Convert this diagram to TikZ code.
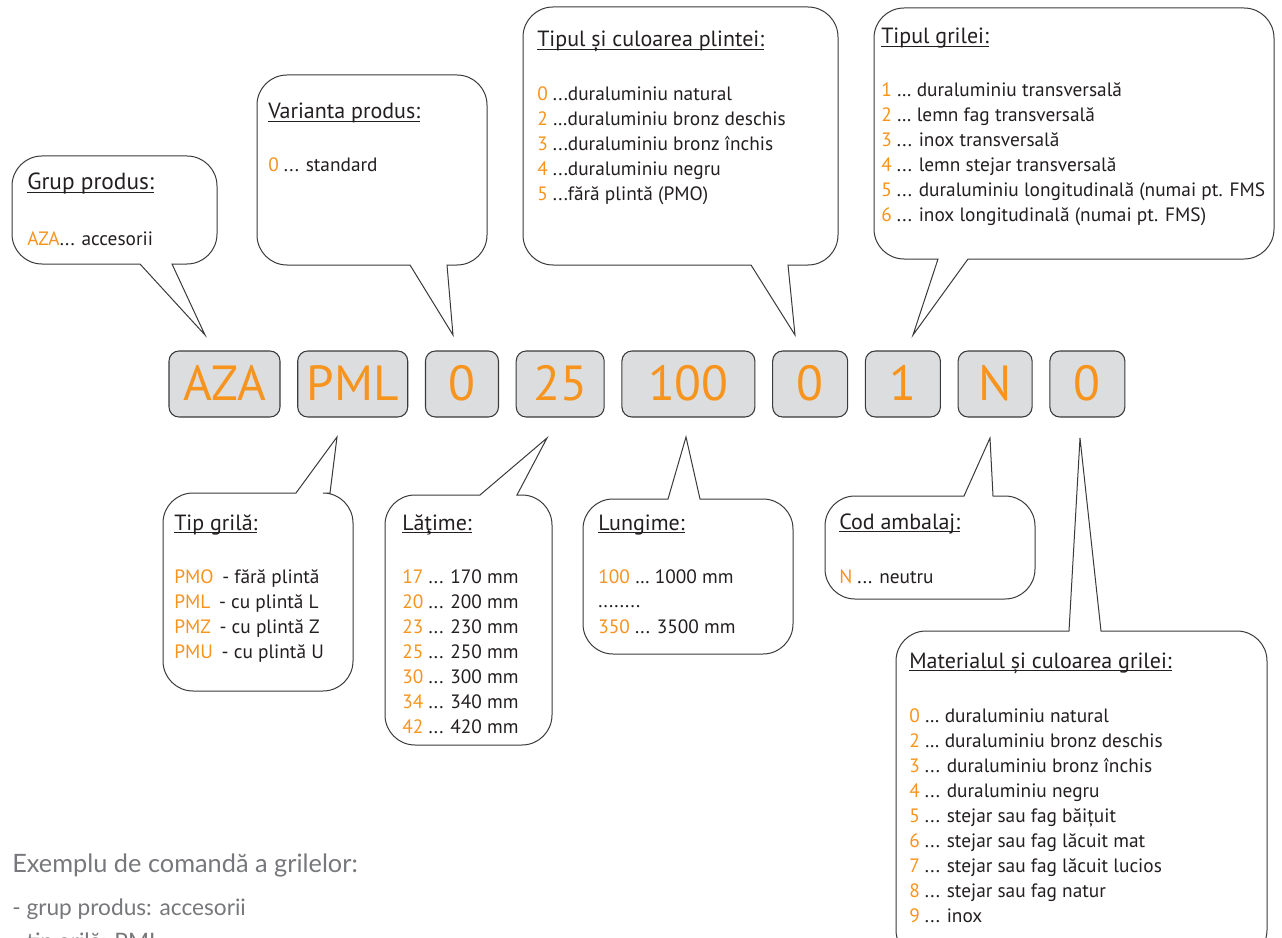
\documentclass[tikz,border=0pt]{standalone}
\usepackage{fontspec}
\setmainfont{PT Sans}
\newfontfamily\exfont{Lato}
\usetikzlibrary{positioning}

\definecolor{codeorange}{HTML}{F7941D}
\definecolor{ink}{HTML}{231F20}
\definecolor{edge}{HTML}{3A3A3A}
\definecolor{boxgray}{HTML}{DCDDDE}
\definecolor{exgray}{HTML}{77787B}

\newcommand{\org}[1]{\textcolor{codeorange}{#1}}
\newcommand{\headul}[1]{\underline{\smash{#1}}}
\newcommand{\crad}{30}

% callout, tail on the lower edge: x1, x2, top, bottom, tail left, tail right, tip x, tip y
\newcommand{\calloutdown}[8]{%
  \draw[bubble] (#7,-#8) -- (#5,-#4) -- ({#1+\crad},-#4)
    arc[start angle=270, end angle=180, radius=\crad] -- (#1,{-#3-\crad})
    arc[start angle=180, end angle=90, radius=\crad] -- ({#2-\crad},-#3)
    arc[start angle=90, end angle=0, radius=\crad] -- (#2,{-#4+\crad})
    arc[start angle=0, end angle=-90, radius=\crad] -- (#6,-#4) -- cycle;}
% callout, tail on the upper edge
\newcommand{\calloutup}[8]{%
  \draw[bubble] (#7,-#8) -- (#6,-#3) -- ({#2-\crad},-#3)
    arc[start angle=90, end angle=0, radius=\crad] -- (#2,{-#4+\crad})
    arc[start angle=0, end angle=-90, radius=\crad] -- ({#1+\crad},-#4)
    arc[start angle=270, end angle=180, radius=\crad] -- (#1,{-#3-\crad})
    arc[start angle=180, end angle=90, radius=\crad] -- (#5,-#3) -- cycle;}

\begin{document}
\begin{tikzpicture}[
  x=0.75pt, y=0.75pt,
  code/.style={draw=edge, line width=0.8pt, fill=boxgray, rounded corners=7.5pt,
               minimum height=49.5pt, inner sep=0pt, text=codeorange,
               text height=25pt, text depth=0pt,
               font=\fontsize{37}{37}\selectfont},
  bubble/.style={draw=edge, line width=0.75pt, fill=white, line join=miter},
  head/.style={anchor=base west, inner sep=0pt, text=ink, font=\fontsize{16.5}{20}\selectfont},
  item/.style={anchor=base west, inner sep=0pt, text=ink, font=\fontsize{14.5}{18}\selectfont},
  note/.style={anchor=base west, inner sep=0pt, text=exgray},
  node distance=12.5pt,
]
\useasboundingbox (0,0) rectangle (1282,-938);
\clip (0,0) rectangle (1282,-938);

% ---- code boxes ----
\node[code, minimum width=83.25pt] (aza) at (224.5,-384) {AZA};
\node[code, minimum width=82.5pt, right=of aza] (pml) {PML};
\node[code, minimum width=54.75pt, right=of pml] (var) {0};
\node[code, minimum width=66pt, right=of var] (lat) {25};
\node[code, minimum width=99.75pt, right=of lat] (lun) {100};
\node[code, minimum width=56.25pt, right=of lun] (plt) {0};
\node[code, minimum width=56.25pt, right=of plt] (grl) {1};
\node[code, minimum width=55.5pt, right=of grl] (amb) {N};
\node[code, minimum width=56.25pt, right=of amb] (mat) {0};

% ---- callouts above ----
\calloutdown{12}{217}{156}{264}{140}{172}{205}{335}
\calloutdown{257}{487}{75}{265}{410}{447}{453}{335}
\calloutdown{523}{838}{7}{265}{751}{788}{795}{335}
\calloutdown{874}{1274}{8}{259}{938}{968}{913}{335}
% ---- callouts below ----
\calloutup{163}{353}{493}{691}{296}{330}{337}{437}
\calloutup{385}{552}{495}{745}{480}{517}{547}{438}
\calloutup{583}{793}{499}{654}{668}{700}{686}{437}
\calloutup{825}{1035}{496}{599}{964}{993}{990}{438}
\calloutup{896}{1267}{631}{960}{1069}{1101}{1080}{438}

% ---- grup produs ----
\node[head, font=\fontsize{17.5}{21}\selectfont] (grp-h) at (27,-190) {\headul{Grup produs:}};
\node[item] (grp-1) at (27,-245) {\org{AZA}... accesorii};
% ---- varianta produs ----
\node[head] (var-h) at (268,-119) {\headul{Varianta produs:}};
\node[item] (var-1) at (268,-172) {\org{0} ... standard};
% ---- tipul plintei ----
\node[head] (plt-h) at (537,-47) {\headul{Tipul și culoarea plintei:}};
\foreach \k/\t [count=\i from 0] in {0/{...duraluminiu natural}, 2/{…duraluminiu bronz deschis},
    3/{...duraluminiu bronz închis}, 4/{...duraluminiu negru}, 5/{...fără plintă (PMO)}}
  \node[item] (plt-\i) at (537,{-101-25*\i}) {\org{\k} \t};
% ---- tipul grilei ----
\node[head] (grl-h) at (881,-44) {\headul{Tipul grilei:}};
\foreach \k/\t [count=\i from 0] in {1/{… duraluminiu transversală}, 2/{… lemn fag transversală},
    3/{... inox transversală}, 4/{... lemn stejar transversală},
    5/{... duraluminiu longitudinală (numai pt. FMS}, 6/{... inox longitudinală (numai pt. FMS)}}
  \node[item] (grl-\i) at (881,{-97-25*\i}) {\org{\k} \t};
% ---- tip grila ----
\node[head] (pml-h) at (174,-530) {\headul{Tip grilă:}};
\foreach \k/\t [count=\i from 0] in {PMO/{- fără plintă}, PML/{- cu plintă L},
    PMZ/{- cu plintă Z}, PMU/{- cu plintă U}}
  \node[item] (pml-\i) at (174,{-583-25*\i}) {\org{\k}\hspace{0.45em}\t};
% ---- latime ----
\node[head] (lat-h) at (402,-530) {\headul{Lăţime:}};
\foreach \k/\t [count=\i from 0] in {17/170, 20/200, 23/230, 25/250, 30/300, 34/340, 42/420}
  \node[item] (lat-\i) at (402,{-583-25*\i}) {\org{\k} ... \t{} mm};
% ---- lungime ----
\node[head] (lun-h) at (598,-530) {\headul{Lungime:}};
\node[item] (lun-1) at (598,-583) {\org{100} … 1000 mm};
\node[item] (lun-2) at (598,-607) {........};
\node[item] (lun-3) at (598,-633) {\org{350} ... 3500 mm};
% ---- cod ambalaj ----
\node[head] (amb-h) at (839,-529) {\headul{Cod ambalaj:}};
\node[item] (amb-1) at (839,-583) {\org{N} ... neutru};
% ---- materialul grilei ----
\node[head] (mat-h) at (909,-668) {\headul{Materialul și culoarea grilei:}};
\foreach \k/\t [count=\i from 0] in {0/{… duraluminiu natural}, 2/{… duraluminiu bronz deschis},
    3/{... duraluminiu bronz închis}, 4/{... duraluminiu negru}, 5/{... stejar sau fag băițuit},
    6/{... stejar sau fag lăcuit mat}, 7/{... stejar sau fag lăcuit lucios},
    8/{... stejar sau fag natur}, 9/{... inox}}
  \node[item] (mat-\i) at (909,{-722-25*\i}) {\org{\k} \t};

% ---- example ----
\node[note, font=\exfont\fontsize{19}{22}\selectfont] (ex-h) at (12,-872) {Exemplu de comandă a grilelor:};
\node[note, font=\exfont\fontsize{17}{20}\selectfont] (ex-1) at (12,-915) {- grup produs: accesorii};
\node[note, font=\exfont\fontsize{17}{20}\selectfont] (ex-2) at (12,-949) {- tip grilă: PML};
\end{tikzpicture}
\end{document}
